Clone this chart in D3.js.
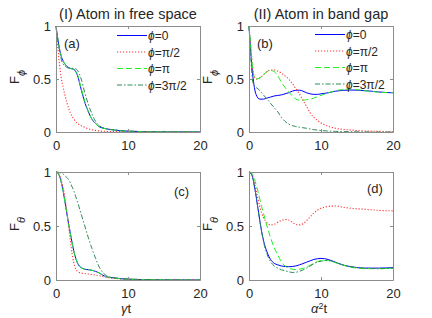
<!DOCTYPE html>
<html>
<head>
<meta charset="utf-8">
<script src="https://cdn.jsdelivr.net/npm/d3@7"></script>
<style>
  body { margin: 0; background: #fff; }
  text { font-family: "Liberation Sans", Arial, sans-serif; }
</style>
</head>
<body>
<div id="vis-holder"></div>
<script>
// Chart size
const width = 432;
const height = 318;

const svg = d3.select("#vis-holder")
              .append("svg")
              .attr("width", width)
              .attr("height", height);

// Series labels and styles
const seriesNames = ["0", "\u03c0/2", "\u03c0", "3\u03c0/2"];
const seriesColors = ["#0000ff", "#ff3333", "#22ee22", "#2e8b57"];
const seriesDash = [null, "1.2,1.8", "6,3", "5,2,1.5,2"];

const xTicks = [0, 10, 20];
const yTicks = [0, 0.5, 1];

// ---- panel (a): free space, F_phi
const tA = [0, 0.25, 0.5, 0.75, 1, 1.5, 2, 2.5, 3, 3.5, 4, 4.5, 5, 5.5, 6, 7, 8, 9, 10, 12, 14, 16, 18, 20];
const aBlue  = [1, 0.88, 0.78, 0.71, 0.67, 0.62, 0.6, 0.59, 0.53, 0.4, 0.28, 0.19, 0.12, 0.08, 0.05, 0.03, 0.02, 0.012, 0.008, 0.004, 0.002, 0.001, 0.0005, 0];
const aRed   = [1, 0.8, 0.63, 0.5, 0.42, 0.28, 0.18, 0.12, 0.08, 0.06, 0.045, 0.03, 0.022, 0.015, 0.01, 0.006, 0.004, 0.003, 0.002, 0.001, 0.0005, 0, 0, 0];
const aGreen = [1, 0.88, 0.78, 0.71, 0.67, 0.62, 0.6, 0.59, 0.54, 0.41, 0.29, 0.19, 0.12, 0.08, 0.05, 0.03, 0.02, 0.012, 0.008, 0.004, 0.002, 0.001, 0.0005, 0];
const aDash  = [1, 0.86, 0.76, 0.68, 0.64, 0.61, 0.6, 0.6, 0.58, 0.5, 0.37, 0.26, 0.17, 0.1, 0.06, 0.03, 0.02, 0.012, 0.008, 0.004, 0.002, 0.001, 0.0005, 0];

// ---- panel (b): band gap, F_phi
const tB = [0, 0.25, 0.5, 0.75, 1, 1.5, 2, 2.5, 3, 3.5, 4, 4.5, 5, 5.5, 6, 6.5, 7, 7.5, 8, 8.5, 9, 9.5, 10, 11, 12, 13, 14, 15, 16, 17, 18, 19, 20];
const bBlue  = [1, 0.75, 0.55, 0.42, 0.35, 0.31, 0.31, 0.32, 0.33, 0.34, 0.345, 0.35, 0.36, 0.37, 0.385, 0.393, 0.395, 0.385, 0.37, 0.36, 0.355, 0.355, 0.36, 0.37, 0.385, 0.393, 0.396, 0.395, 0.39, 0.385, 0.378, 0.373, 0.37];
const bRed   = [1, 0.8, 0.6, 0.52, 0.5, 0.51, 0.54, 0.57, 0.585, 0.585, 0.575, 0.555, 0.53, 0.5, 0.46, 0.41, 0.36, 0.3, 0.24, 0.18, 0.14, 0.11, 0.085, 0.055, 0.035, 0.025, 0.02, 0.014, 0.01, 0.008, 0.006, 0.005, 0.004];
const bGreen = [1, 0.8, 0.6, 0.52, 0.5, 0.51, 0.54, 0.57, 0.58, 0.57, 0.53, 0.47, 0.42, 0.38, 0.34, 0.31, 0.3, 0.3, 0.305, 0.31, 0.32, 0.332, 0.345, 0.37, 0.39, 0.4, 0.405, 0.4, 0.39, 0.383, 0.376, 0.372, 0.37];
const bDash  = [1, 0.7, 0.48, 0.43, 0.42, 0.39, 0.35, 0.31, 0.27, 0.23, 0.19, 0.14, 0.1, 0.075, 0.06, 0.052, 0.045, 0.04, 0.035, 0.028, 0.022, 0.018, 0.014, 0.009, 0.006, 0.004, 0.003, 0.002, 0.001, 0, 0, 0, 0];

// ---- panel (c): free space, F_theta
const tC = [0, 0.25, 0.5, 0.75, 1, 1.25, 1.5, 1.75, 2, 2.25, 2.5, 2.75, 3, 3.5, 4, 4.5, 5, 5.5, 6, 6.5, 7, 8, 9, 10, 12, 14, 16, 20];
const cBlue  = [1, 0.99, 0.96, 0.9, 0.82, 0.72, 0.62, 0.52, 0.43, 0.34, 0.26, 0.2, 0.155, 0.115, 0.1, 0.095, 0.09, 0.08, 0.065, 0.045, 0.03, 0.02, 0.012, 0.008, 0.004, 0.002, 0.001, 0];
const cRed   = [1, 0.995, 0.97, 0.92, 0.85, 0.76, 0.64, 0.5, 0.36, 0.24, 0.15, 0.1, 0.08, 0.065, 0.06, 0.055, 0.05, 0.045, 0.04, 0.032, 0.025, 0.015, 0.01, 0.006, 0.003, 0.001, 0, 0];
const cGreen = [1, 0.99, 0.96, 0.9, 0.82, 0.72, 0.62, 0.52, 0.43, 0.34, 0.26, 0.2, 0.155, 0.115, 0.1, 0.095, 0.09, 0.08, 0.065, 0.045, 0.03, 0.02, 0.012, 0.008, 0.004, 0.002, 0.001, 0];
const cDash  = [1, 0.999, 0.995, 0.99, 0.98, 0.965, 0.95, 0.93, 0.9, 0.86, 0.82, 0.77, 0.72, 0.61, 0.5, 0.39, 0.29, 0.2, 0.12, 0.07, 0.04, 0.02, 0.012, 0.008, 0.004, 0.002, 0.001, 0];

// ---- panel (d): band gap, F_theta
const tD = [0, 0.25, 0.5, 0.75, 1, 1.25, 1.5, 1.75, 2, 2.5, 3, 3.5, 4, 4.5, 5, 5.5, 6, 6.5, 7, 7.5, 8, 8.5, 9, 9.5, 10, 11, 12, 13, 14, 15, 16, 17, 18, 20];
const dBlue  = [1, 0.99, 0.95, 0.87, 0.77, 0.66, 0.55, 0.45, 0.37, 0.26, 0.19, 0.155, 0.14, 0.13, 0.125, 0.123, 0.125, 0.13, 0.14, 0.152, 0.165, 0.178, 0.19, 0.197, 0.2, 0.19, 0.165, 0.14, 0.125, 0.115, 0.11, 0.11, 0.11, 0.115];
const dRed   = [1, 0.99, 0.96, 0.9, 0.83, 0.75, 0.68, 0.62, 0.58, 0.53, 0.51, 0.515, 0.535, 0.55, 0.56, 0.555, 0.535, 0.515, 0.51, 0.52, 0.55, 0.585, 0.62, 0.645, 0.665, 0.68, 0.685, 0.675, 0.665, 0.66, 0.655, 0.65, 0.645, 0.64];
const dGreen = [1, 0.995, 0.98, 0.94, 0.88, 0.82, 0.75, 0.68, 0.62, 0.5, 0.39, 0.3, 0.23, 0.17, 0.13, 0.11, 0.1, 0.097, 0.1, 0.108, 0.12, 0.137, 0.155, 0.17, 0.18, 0.18, 0.16, 0.14, 0.12, 0.11, 0.105, 0.105, 0.105, 0.11];
const dDash  = [1, 0.99, 0.95, 0.87, 0.77, 0.66, 0.55, 0.45, 0.36, 0.24, 0.17, 0.13, 0.11, 0.095, 0.085, 0.077, 0.07, 0.072, 0.08, 0.093, 0.11, 0.13, 0.15, 0.165, 0.175, 0.18, 0.165, 0.14, 0.125, 0.115, 0.11, 0.107, 0.105, 0.11];

const panels = [
  { left: 56,  right: 200, top: 26,  bottom: 132, t: tA, ys: [aBlue, aRed, aGreen, aDash],
    tag: "(a)", tagX: 64, tagY: 48, title: "(I) Atom in free space", sub: "\u03d5", legend: { x: 117, y: 35.5 } },
  { left: 249, right: 393, top: 26,  bottom: 132, t: tB, ys: [bBlue, bRed, bGreen, bDash],
    tag: "(b)", tagX: 257, tagY: 48, title: "(II) Atom in band gap", sub: "\u03d5", legend: { x: 315, y: 34.5 } },
  { left: 56,  right: 200, top: 172, bottom: 280, t: tC, ys: [cBlue, cRed, cGreen, cDash],
    tag: "(c)", tagX: 174, tagY: 196, sub: "\u03b8", xlab: "\u03b3" },
  { left: 249, right: 393, top: 172, bottom: 280, t: tD, ys: [dBlue, dRed, dGreen, dDash],
    tag: "(d)", tagX: 367, tagY: 193, sub: "\u03b8", xlab: "\u03b1", xsup: "2" }
];

const axisColor = "#8c8c8c";
const textColor = "#262626";

panels.forEach((p) => {
  const x = d3.scaleLinear().domain([0, 20]).range([p.left, p.right]);
  const y = d3.scaleLinear().domain([0, 1]).range([p.bottom, p.top]);
  const g = svg.append("g");

  // curves
  const line = d3.line()
                 .x((d) => x(d[0]))
                 .y((d) => y(d[1]))
                 .curve(d3.curveMonotoneX);
  p.ys.forEach((vals, i) => {
    g.append("path")
     .datum(p.t.map((t, k) => [t, vals[k]]))
     .attr("d", line)
     .attr("fill", "none")
     .attr("stroke", seriesColors[i])
     .attr("stroke-width", i == 1 ? 1.1 : 1)
     .attr("stroke-dasharray", seriesDash[i]);
  });

  // axes, ticks pointing in on all four sides
  const fmt = d3.format("~g");
  const ax = [
    [d3.axisBottom(x).tickValues(xTicks).tickSizeInner(-3).tickSizeOuter(0).tickPadding(9).tickFormat(fmt), `translate(0,${p.bottom})`, true],
    [d3.axisTop(x).tickValues(xTicks).tickSizeInner(-3).tickSizeOuter(0), `translate(0,${p.top})`, false],
    [d3.axisLeft(y).tickValues(yTicks).tickSizeInner(-3).tickSizeOuter(0).tickPadding(5).tickFormat(fmt), `translate(${p.left},0)`, true],
    [d3.axisRight(y).tickValues(yTicks).tickSizeInner(-3).tickSizeOuter(0), `translate(${p.right},0)`, false]
  ];
  ax.forEach(([a, tr, labels]) => {
    const ag = g.append("g").attr("transform", tr).call(a);
    ag.select(".domain").attr("stroke", axisColor).attr("stroke-width", 1);
    ag.selectAll(".tick line").attr("stroke", axisColor);
    ag.selectAll(".tick text")
      .attr("fill", textColor)
      .attr("font-size", "13px")
      .attr("font-family", "Liberation Sans, Arial, sans-serif");
    if (!labels) ag.selectAll(".tick text").remove();
  });

  // panel tag
  g.append("text")
   .attr("x", p.tagX).attr("y", p.tagY)
   .attr("font-size", "13px").attr("fill", textColor)
   .text(p.tag);

  // y label F with subscript
  const yl = g.append("text")
              .attr("transform", `translate(${p.left - 37},${(p.top + p.bottom) / 2 - 2}) rotate(-90)`)
              .attr("text-anchor", "middle")
              .attr("font-size", "13px").attr("fill", textColor);
  yl.append("tspan").text("F");
  yl.append("tspan").attr("dy", 6).attr("font-size", "11px").attr("font-style", "italic").text(p.sub);

  if (p.title) {
    g.append("text")
     .attr("x", (p.left + p.right) / 2).attr("y", 18.5)
     .attr("text-anchor", "middle")
     .attr("font-size", "14.5px").attr("fill", textColor)
     .text(p.title);
  }

  if (p.xlab) {
    const xl = g.append("text")
                .attr("x", (p.left + p.right) / 2 - 2).attr("y", 313)
                .attr("text-anchor", "middle")
                .attr("font-size", "13px").attr("fill", textColor);
    xl.append("tspan").attr("font-style", "italic").text(p.xlab);
    if (p.xsup) {
      xl.append("tspan").attr("dy", -4).attr("font-size", "9px").text(p.xsup);
      xl.append("tspan").attr("dy", 4).text("t");
    } else {
      xl.append("tspan").text("t");
    }
  }

  // legend
  if (p.legend) {
    seriesNames.forEach((name, i) => {
      const ly = p.legend.y + i * 16.5;
      g.append("line")
       .attr("x1", p.legend.x).attr("x2", p.legend.x + 30)
       .attr("y1", ly).attr("y2", ly)
       .attr("stroke", seriesColors[i])
       .attr("stroke-width", i == 1 ? 1.1 : 1)
       .attr("stroke-dasharray", seriesDash[i]);
      const lt = g.append("text")
                  .attr("x", p.legend.x + 31).attr("y", ly + 4.5)
                  .attr("font-size", "12px").attr("fill", textColor);
      lt.append("tspan").attr("font-style", "italic").text("\u03d5");
      lt.append("tspan").text("=" + name);
    });
  }
});
</script>
</body>
</html>
